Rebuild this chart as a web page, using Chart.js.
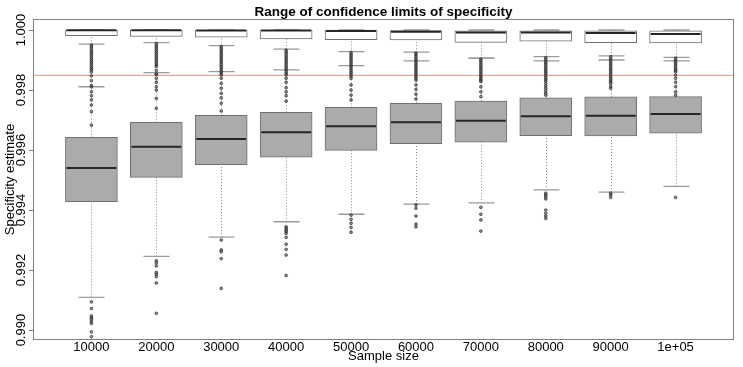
<!DOCTYPE html>
<html>
<head>
<meta charset="utf-8">
<script src="https://cdn.jsdelivr.net/npm/chart.js@4.4.0/dist/chart.umd.min.js"></script>
<style>
  html, body { margin: 0; padding: 0; background: #fff; }
</style>
</head>
<body>
<canvas id="chart" width="743" height="367"></canvas>
<script>
// categorias del eje x
const sampleSizes = ['10000', '20000', '30000', '40000', '50000', '60000', '70000', '80000', '90000', '1e+05'];
const yTicks = [0.990, 0.992, 0.994, 0.996, 0.998, 1.000];
const refLine = 0.99849; // linea horizontal de referencia

// cajas grises: limite inferior
const lowerWhiskerLow = [0.99109, 0.99246, 0.99310, 0.99361, 0.99386, 0.99420, 0.99424, 0.99467, 0.99460, 0.99479];
const lowerQ1 = [0.99428, 0.99509, 0.99551, 0.99576, 0.99599, 0.99621, 0.99626, 0.99648, 0.99647, 0.99656];
const lowerMedian = [0.99540, 0.99611, 0.99637, 0.99659, 0.99679, 0.99693, 0.99698, 0.99713, 0.99714, 0.99720];
const lowerQ3 = [0.99642, 0.99692, 0.99716, 0.99726, 0.99742, 0.99756, 0.99763, 0.99774, 0.99777, 0.99778];
const lowerWhiskerHigh = [0.99811, 0.99858, 0.99861, 0.99867, 0.99881, 0.99897, 0.99906, 0.99897, 0.99900, 0.99897];
const lowerOutliers = [
    [0.99094, 0.99072, 0.99047, 0.99041, 0.99036, 0.99028, 0.99022, 0.98994, 0.98978],
    [0.99231, 0.99224, 0.99214, 0.99192, 0.99186, 0.99178, 0.99157, 0.99056],
    [0.99300, 0.99267, 0.99261, 0.99238, 0.99139],
    [0.99344, 0.99339, 0.99333, 0.99328, 0.99322, 0.99309, 0.99286, 0.99269, 0.99250, 0.99182],
    [0.99383, 0.99369, 0.99356, 0.99342, 0.99326],
    [0.99417, 0.99406, 0.99380, 0.99353, 0.99344],
    [0.99409, 0.99386, 0.99367, 0.99330],
    [0.99456, 0.99450, 0.99444, 0.99437, 0.99400, 0.99389, 0.99380, 0.99372],
    [0.99456, 0.99450, 0.99442],
    [0.99442]
];

// cajas blancas: limite superior
const upperWhiskerLow = [0.99953, 0.99958, 0.99948, 0.99936, 0.99928, 0.99926, 0.99906, 0.99911, 0.99914, 0.99909];
const upperQ1 = [0.99981, 0.99979, 0.99976, 0.99970, 0.99968, 0.99967, 0.99959, 0.99963, 0.99958, 0.99957];
const upperMedian = [0.99999, 0.99999, 0.99998, 0.99998, 0.99997, 0.99994, 0.99992, 0.99992, 0.99990, 0.99987];
const upperQ3 = [1.00000, 1.00000, 1.00000, 1.00000, 1.00000, 0.99998, 0.99997, 0.99997, 0.99997, 0.99997];
const upperWhiskerHigh = [1.00000, 1.00000, 1.00000, 1.00000, 1.00000, 1.00000, 1.00000, 1.00000, 1.00000, 1.00000];
const upperOutliers = [
    [0.99950, 0.99944, 0.99938, 0.99932, 0.99926, 0.99920, 0.99914, 0.99908, 0.99902, 0.99896, 0.99890, 0.99884, 0.99878, 0.99872, 0.99867,
     0.99860, 0.99847, 0.99831, 0.99815, 0.99811, 0.99794, 0.99781, 0.99767, 0.99750, 0.99728, 0.99683],
    [0.99955, 0.99949, 0.99943, 0.99937, 0.99931, 0.99925, 0.99919, 0.99913, 0.99907, 0.99901, 0.99895, 0.99889, 0.99883, 0.99878,
     0.99865, 0.99853, 0.99852, 0.99839, 0.99826, 0.99811, 0.99800, 0.99772, 0.99739],
    [0.99945, 0.99939, 0.99933, 0.99927, 0.99921, 0.99915, 0.99909, 0.99903, 0.99897, 0.99891, 0.99885, 0.99879, 0.99873, 0.99867, 0.99861, 0.99855, 0.99850,
     0.99839, 0.99822, 0.99806, 0.99789, 0.99774, 0.99756, 0.99730],
    [0.99933, 0.99927, 0.99921, 0.99915, 0.99909, 0.99903, 0.99897, 0.99891, 0.99885, 0.99879, 0.99873, 0.99867, 0.99861, 0.99855, 0.99850,
     0.99839, 0.99826, 0.99808, 0.99794, 0.99781, 0.99763],
    [0.99925, 0.99919, 0.99913, 0.99907, 0.99901, 0.99895, 0.99889, 0.99883, 0.99877, 0.99871, 0.99865, 0.99859, 0.99853, 0.99846, 0.99839,
     0.99817, 0.99800, 0.99783, 0.99767],
    [0.99923, 0.99917, 0.99911, 0.99905, 0.99899, 0.99893, 0.99887, 0.99881, 0.99875, 0.99869, 0.99863, 0.99857, 0.99851, 0.99845, 0.99839, 0.99833,
     0.99817, 0.99802, 0.99786, 0.99770],
    [0.99903, 0.99897, 0.99891, 0.99885, 0.99879, 0.99873, 0.99867, 0.99861, 0.99855, 0.99849, 0.99843, 0.99837, 0.99832, 0.99828,
     0.99811, 0.99794, 0.99778],
    [0.99908, 0.99902, 0.99896, 0.99890, 0.99884, 0.99878, 0.99872, 0.99866, 0.99860, 0.99854, 0.99848, 0.99842, 0.99836, 0.99830,
     0.99822, 0.99814, 0.99806, 0.99798, 0.99790, 0.99783],
    [0.99911, 0.99905, 0.99899, 0.99893, 0.99887, 0.99881, 0.99875, 0.99869, 0.99863, 0.99857, 0.99851, 0.99845, 0.99839, 0.99833, 0.99827, 0.99822,
     0.99812, 0.99806],
    [0.99906, 0.99900, 0.99894, 0.99888, 0.99882, 0.99876, 0.99870, 0.99864, 0.99861,
     0.99850, 0.99839, 0.99826, 0.99811, 0.99794, 0.99783]
];

const xMin = 0.1;
const xMax = 10.9;

Chart.defaults.font.family = '"Liberation Sans", Arial, sans-serif';
Chart.defaults.font.size = 13;
Chart.defaults.color = '#000';

// bigotes, topes, medianas y marco
const boxplotPlugin = {
    id: 'boxplot',
    beforeDatasetsDraw(chart) {
        const ctx = chart.ctx;
        const xs = chart.scales.x, ys = chart.scales.y;
        const halfCap = (xs.getPixelForValue(1.2) - xs.getPixelForValue(1));
        const sets = [
            [lowerWhiskerLow, lowerQ1, lowerQ3, lowerWhiskerHigh],
            [upperWhiskerLow, upperQ1, upperQ3, upperWhiskerHigh]
        ];
        ctx.save();
        sets.forEach(([wLo, q1, q3, wHi]) => {
            sampleSizes.forEach((_, i) => {
                const px = Math.round(xs.getPixelForValue(i + 1)) + 0.5;
                ctx.strokeStyle = '#8a8a8a';
                ctx.lineWidth = 1;
                ctx.setLineDash([1, 2]);
                ctx.beginPath();
                ctx.moveTo(px, ys.getPixelForValue(wLo[i]));
                ctx.lineTo(px, ys.getPixelForValue(q1[i]));
                ctx.moveTo(px, ys.getPixelForValue(q3[i]));
                ctx.lineTo(px, ys.getPixelForValue(wHi[i]));
                ctx.stroke();
                ctx.setLineDash([]);
                ctx.strokeStyle = '#9a9a9a';
                ctx.lineWidth = 1.3;
                ctx.beginPath();
                [wLo[i], wHi[i]].forEach(v => {
                    const py = ys.getPixelForValue(v);
                    ctx.moveTo(px - halfCap, py);
                    ctx.lineTo(px + halfCap, py);
                });
                ctx.stroke();
            });
        });
        ctx.restore();
    },
    afterDatasetsDraw(chart) {
        const ctx = chart.ctx;
        const xs = chart.scales.x, ys = chart.scales.y;
        const halfBox = (xs.getPixelForValue(1.4) - xs.getPixelForValue(1));
        ctx.save();
        ctx.strokeStyle = '#262626';
        ctx.lineWidth = 2;
        ctx.beginPath();
        [lowerMedian, upperMedian].forEach(med => {
            med.forEach((v, i) => {
                const px = xs.getPixelForValue(i + 1);
                const py = ys.getPixelForValue(v);
                ctx.moveTo(px - halfBox + 1, py);
                ctx.lineTo(px + halfBox - 1, py);
            });
        });
        ctx.stroke();
        // marco del grafico
        const a = chart.chartArea;
        ctx.strokeStyle = '#808080';
        ctx.lineWidth = 1;
        ctx.strokeRect(a.left + 0.5, a.top + 0.5, a.right - a.left - 1, a.bottom - a.top - 1);
        ctx.restore();
    }
};

const boxData = (q1, q3) => q1.map((q, i) => ({ x: i + 1, y: [q, q3[i]] }));
const pointData = lists => lists.flatMap((vals, i) => vals.map(v => ({ x: i + 1, y: v })));

const pointStyle = {
    pointRadius: 1.4,
    pointBackgroundColor: 'rgba(100,100,100,0.7)',
    pointBorderColor: 'rgba(20,20,20,0.7)',
    pointBorderWidth: 0.8
};

new Chart(document.getElementById('chart'), {
    type: 'scatter',
    data: {
        datasets: [
            {
                type: 'bar',
                data: boxData(lowerQ1, lowerQ3),
                backgroundColor: '#ababab',
                borderColor: '#707070',
                borderWidth: 1,
                borderSkipped: false,
                barThickness: 52,
                grouped: false,
                order: 3
            },
            {
                type: 'bar',
                data: boxData(upperQ1, upperQ3),
                backgroundColor: '#ffffff',
                borderColor: '#707070',
                borderWidth: 1,
                borderSkipped: false,
                barThickness: 52,
                grouped: false,
                order: 3
            },
            {
                type: 'line',
                data: [{ x: xMin, y: refLine }, { x: xMax, y: refLine }],
                borderColor: '#eaa898',
                borderWidth: 1.2,
                pointRadius: 0,
                order: 2
            },
            Object.assign({ data: pointData(lowerOutliers), order: 1 }, pointStyle),
            Object.assign({ data: pointData(upperOutliers), order: 1 }, pointStyle)
        ]
    },
    options: {
        responsive: false,
        animation: false,
        devicePixelRatio: 1,
        layout: { padding: { left: 0, right: 9, top: 0, bottom: 0 } },
        plugins: {
            legend: { display: false },
            tooltip: { enabled: false },
            title: {
                display: true,
                fullSize: false,
                text: 'Range of confidence limits of specificity',
                font: { size: 13.5, weight: 'bold', lineHeight: 1 },
                color: '#000',
                padding: { top: 5.5, bottom: 0 }
            }
        },
        scales: {
            x: {
                type: 'linear',
                min: xMin,
                max: xMax,
                offset: false,
                afterBuildTicks: s => { s.ticks = sampleSizes.map((_, i) => ({ value: i + 1 })); },
                afterFit: s => { s.height = 27; },
                ticks: {
                    autoSkip: false,
                    maxRotation: 0,
                    padding: 0,
                    callback: v => sampleSizes[v - 1]
                },
                grid: { display: false, drawTicks: false },
                border: { display: false },
                title: { display: true, text: 'Sample size', padding: { top: 0, bottom: 3 } }
            },
            y: {
                type: 'linear',
                min: 0.98967,
                max: 1.000367,
                afterBuildTicks: s => { s.ticks = yTicks.map(v => ({ value: v })); },
                afterFit: s => { s.width = 33; },
                ticks: {
                    minRotation: 90,
                    maxRotation: 90,
                    crossAlign: 'center',
                    padding: -9,
                    callback: v => v.toFixed(3)
                },
                grid: { drawOnChartArea: false, drawTicks: true, tickLength: 4, color: '#808080' },
                border: { display: false },
                title: { display: true, text: 'Specificity estimate', padding: { top: 3, bottom: 0 } }
            }
        }
    },
    plugins: [boxplotPlugin]
});
</script>
</body>
</html>
